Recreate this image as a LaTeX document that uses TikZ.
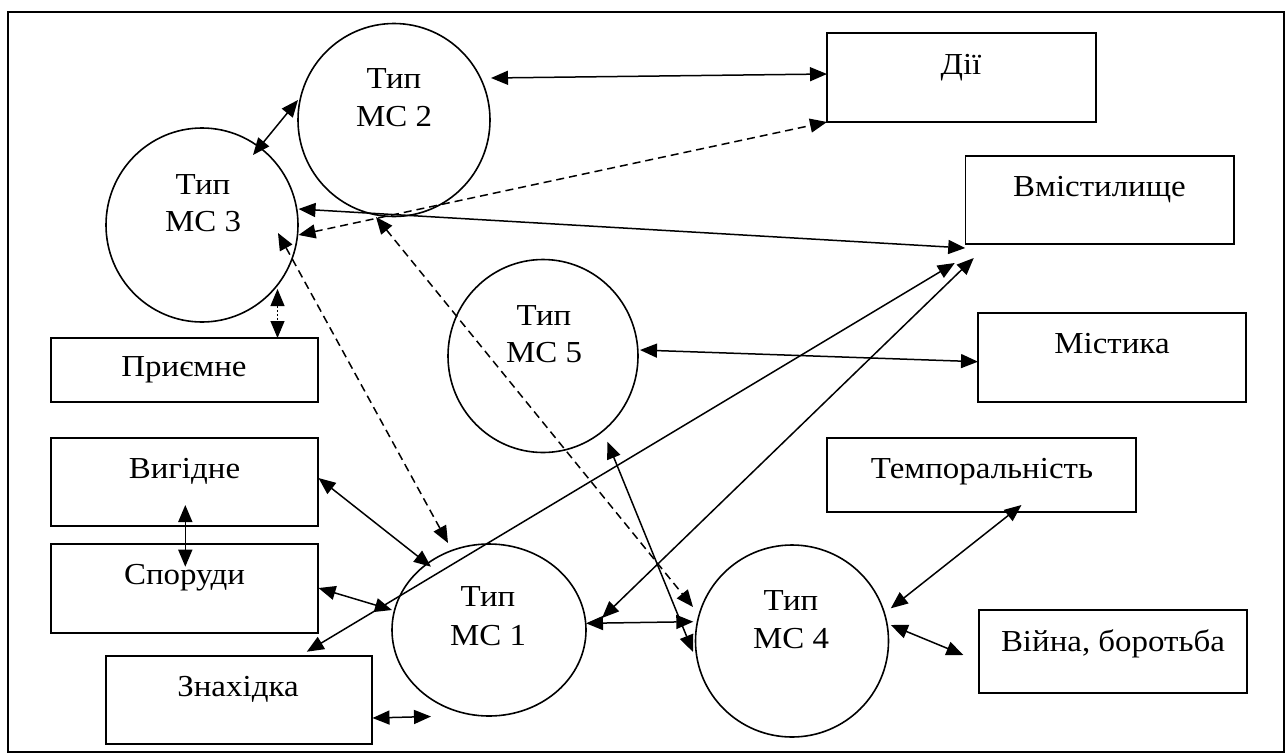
\documentclass[tikz,border=0pt]{standalone}
\usepackage{graphicx}
\usepackage{fontspec}
\setmainfont{Liberation Serif}
\usetikzlibrary{arrows.meta,shapes.geometric,calc}
\newcommand\wideTxt[1]{\scalebox{1.08}[1]{#1}}
\begin{document}
\begin{tikzpicture}[x=1pt,y=-1pt,
  ell/.style={draw, ellipse, line width=1.6pt, inner sep=0pt},
  rbox/.style={draw, rectangle, line width=1.8pt, inner sep=0pt},
  txt/.style={anchor=base, inner sep=0pt, font=\fontsize{30.5}{36}\selectfont},
  con/.style={line width=1.5pt, {Triangle[length=17pt,width=14pt]}-{Triangle[length=17pt,width=14pt]}},
  dcon/.style={con, dash pattern=on 8pt off 5pt},
  tcon/.style={con, line width=1pt, dash pattern=on 2pt off 2pt}]
\useasboundingbox (0,0) rectangle (1285,753);
% outer frame
\draw[line width=2pt] (8,12) rectangle (1283.5,751.5);

% circles
\node[ell, minimum width=192pt, minimum height=193pt] (mc2) at (394,120) {};
\node[ell, minimum width=192pt, minimum height=194pt] (mc3) at (202,225) {};
\node[ell, minimum width=190pt, minimum height=193pt] (mc5) at (543,356) {};
\node[ell, minimum width=194pt, minimum height=172pt] (mc1) at (489,630) {};
\node[ell, minimum width=193pt, minimum height=192pt] (mc4) at (792,641) {};

% boxes
\node[rbox, minimum width=269pt, minimum height=89pt] (dii) at (961.5,77.5) {};
\node[rbox, minimum width=268.5pt, minimum height=88pt] (vmist) at (1099.75,200) {};
\node[rbox, minimum width=268pt, minimum height=89pt] (mist) at (1112,357.5) {};
\node[rbox, minimum width=267pt, minimum height=64pt] (priem) at (184.5,370) {};
\node[rbox, minimum width=267pt, minimum height=88pt] (vyhid) at (184.5,482) {};
\node[rbox, minimum width=267pt, minimum height=89pt] (sporud) at (184.5,588.5) {};
\node[rbox, minimum width=266pt, minimum height=88pt] (znakh) at (239,700) {};
\node[rbox, minimum width=309pt, minimum height=74pt] (temp) at (981.5,475) {};
\node[rbox, minimum width=268pt, minimum height=83pt] (viina) at (1113,651.5) {};

% texts
\node[txt] (t2a) at (394,88) {\wideTxt{Тип}};
\node[txt] (t2b) at (394,126) {\wideTxt{МС 2}};
\node[txt] (t3a) at (203,194) {\wideTxt{Тип}};
\node[txt] (t3b) at (203,231.7) {\wideTxt{МС 3}};
\node[txt] (t5a) at (544,325) {\wideTxt{Тип}};
\node[txt] (t5b) at (544,362.7) {\wideTxt{МС 5}};
\node[txt] (t1a) at (488,606.7) {\wideTxt{Тип}};
\node[txt] (t1b) at (488,645) {\wideTxt{МС 1}};
\node[txt] (t4a) at (791,610) {\wideTxt{Тип}};
\node[txt] (t4b) at (791,648.3) {\wideTxt{МС 4}};
\node[txt] (tdii) at (961,74) {\wideTxt{Дії}};
\node[txt] (tvmist) at (1099.5,196.7) {\wideTxt{Вмістилище}};
\node[txt] (tmist) at (1112,353.3) {\wideTxt{Містика}};
\node[txt] (tpriem) at (184,376.5) {\wideTxt{Приємне}};
\node[txt] (tvyhid) at (184.5,478.3) {\wideTxt{Вигідне}};
\node[txt] (tsporud) at (184.5,584) {\wideTxt{Споруди}};
\node[txt] (tznakh) at (238,696) {\wideTxt{Знахідка}};
\node[txt] (ttemp) at (982,478.3) {\wideTxt{Темпоральність}};
\node[txt] (tviina) at (1113,651) {\wideTxt{Війна, боротьба}};

% connectors
\draw[con] ($(mc3)+(51,-70)$) -- ($(mc2)+(-96,-20)$);
\draw[con] ($(mc2)+(97,-42)$) -- ($(dii)+(-134.5,-3.5)$);
\draw[dcon] ($(mc3)+(96.5,10)$) -- ($(dii)+(-134.5,44.5)$);
\draw[con] ($(mc3)+(96.5,-16)$) -- ($(vmist)+(-134.5,48)$);
\draw[dcon] ($(mc3)+(76,8)$) -- ($(mc1)+(-41,-87)$);
\draw[dcon] ($(mc2)+(-18,97)$) -- ($(mc4)+(-99,-34)$);
\draw[tcon] ($(mc3)+(75.5,64)$) -- ($(priem)+(93,-32)$);
\draw[con] ($(mc5)+(97,-6)$) -- ($(mist)+(-134,4.2)$);
\draw[con] ($(znakh)+(67.8,-48.3)$) -- ($(vmist)+(-145,63)$);
\draw[con] ($(mc1)+(113,-12)$) -- ($(vmist)+(-126,58)$);
\draw[con] ($(vyhid)+(134,-4)$) -- ($(mc1)+(-58,-63.3)$);
\draw[con] ($(vyhid)+(0.8,23)$) -- ($(sporud)+(0.8,-21.8)$);
\draw[con] ($(sporud)+(134,-0.5)$) -- ($(mc1)+(-97,-20)$);
\draw[con] ($(znakh)+(133.5,18)$) -- ($(mc1)+(-58,86.5)$);
\draw[con] ($(mc1)+(97,-6.7)$) -- ($(mc4)+(-98.7,-19.3)$);
\draw[con] ($(mc5)+(64.4,85.7)$) -- ($(mc4)+(-99,11)$);
\draw[con] ($(temp)+(40,30)$) -- ($(mc4)+(98.8,-32.7)$);
\draw[con] ($(mc4)+(98.8,-16)$) -- ($(viina)+(-149.6,3.5)$);
\end{tikzpicture}
\end{document}
